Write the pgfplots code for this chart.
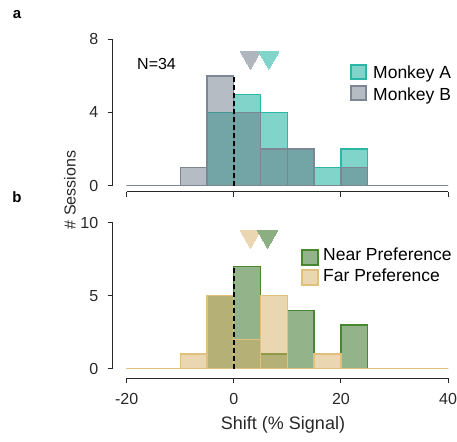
\documentclass[border=0pt]{standalone}
\usepackage{pgfplots}
\pgfplotsset{compat=1.18}
\usepackage{fontspec}
\setmainfont{Liberation Sans}
\definecolor{tealF}{RGB}{128,212,201}
\definecolor{tealD}{RGB}{43,183,165}
\definecolor{grayB}{RGB}{101,115,132}
\definecolor{grayD}{RGB}{125,135,148}
\definecolor{grayL}{RGB}{181,188,196}
\definecolor{grayT}{RGB}{176,182,190}
\definecolor{greenF}{RGB}{147,179,138}
\definecolor{greenD}{RGB}{72,135,48}
\definecolor{greenT}{RGB}{140,175,130}
\definecolor{tanB}{RGB}{214,175,100}
\definecolor{tanD}{RGB}{225,192,125}
\definecolor{tanL}{RGB}{234,214,176}
\definecolor{axc}{RGB}{40,40,40}
\begin{document}
\begin{tikzpicture}[x=1pt,y=1pt]
\path[use as bounding box] (0,0) rectangle (457,-441);
\pgfplotsset{myax/.style={scale only axis, xmin=-22.62, xmax=40, width=335.3pt,
  anchor=south west, axis line style={draw=none}, tick align=outside,
  xtick pos=left, ytick pos=left, xtick={-20,0,20,40}, major tick length=5pt,
  tick style={line width=0.9pt, color=axc}, clip=false,
  /pgf/number format/assume math mode=true,
  ticklabel style={font=\fontsize{16}{19}\selectfont, text=axc},
  xticklabel style={yshift=-6pt},
  yticklabel style={xshift=-6pt}}}

% ---- panel a ----
\begin{axis}[myax, at={(112.7pt,-191.7pt)}, height=152.4pt, ymin=-0.33, ymax=8,
  ytick={0,4,8}, xticklabels={}]
\addplot[ybar interval, fill=tealF, draw=tealD, line width=1.3pt] coordinates {
(-20,0) (-15,0) (-10,0) (-5,4) (0,5) (5,4) (10,2) (15,1) (20,2) (25,0) (30,0) (35,0) (40,0)};
\addplot[ybar interval, fill=grayB, fill opacity=0.48, draw=grayD, line width=1.3pt] coordinates {
(-20,0) (-15,0) (-10,1) (-5,6) (0,4) (5,2) (10,2) (15,0) (20,1) (25,0) (30,0) (35,0) (40,0)};
\addplot[black, line width=1.6pt, dash pattern=on 5pt off 3pt] coordinates {(0,0) (0,6)};
\addplot[only marks, color=grayT, mark=triangle*, mark size=11.5pt, mark options={rotate=180, fill=grayT, draw=grayT, line width=0pt}] coordinates {(3.1,7)};
\addplot[only marks, color=tealF, mark=triangle*, mark size=11.5pt, mark options={rotate=180, fill=tealF, draw=tealF, line width=0pt}] coordinates {(6.55,7)};
\draw[axc, line width=1.2pt] (axis cs:-22.62,0) -- (axis cs:-22.62,8);
\draw[axc, line width=1.2pt] (axis cs:-20,-0.33) -- (axis cs:40,-0.33);
\end{axis}

% ---- panel b ----
\begin{axis}[myax, at={(112.7pt,-378.3pt)}, height=155.6pt, ymin=-0.66, ymax=10,
  ytick={0,5,10}]
\addplot[ybar interval, fill=greenF, draw=greenD, line width=1.3pt] coordinates {
(-20,0) (-15,0) (-10,0) (-5,5) (0,7) (5,1) (10,4) (15,0) (20,3) (25,0) (30,0) (35,0) (40,0)};
\addplot[ybar interval, fill=tanB, fill opacity=0.51, draw=tanD, line width=1.3pt] coordinates {
(-20,0) (-15,0) (-10,1) (-5,5) (0,2) (5,5) (10,0) (15,1) (20,0) (25,0) (30,0) (35,0) (40,0)};
\addplot[black, line width=1.6pt, dash pattern=on 5pt off 3pt] coordinates {(0,0) (0,7)};
\addplot[only marks, color=tanL, mark=triangle*, mark size=11.5pt, mark options={rotate=180, fill=tanL, draw=tanL, line width=0pt}] coordinates {(3.1,9.05)};
\addplot[only marks, color=greenT, mark=triangle*, mark size=11.5pt, mark options={rotate=180, fill=greenT, draw=greenT, line width=0pt}] coordinates {(6.3,9.05)};
\draw[axc, line width=1.2pt] (axis cs:-22.62,0) -- (axis cs:-22.62,10);
\draw[axc, line width=1.2pt] (axis cs:-20,-0.66) -- (axis cs:40,-0.66);
\end{axis}

% ---- labels ----
\node[font=\bfseries\fontsize{15}{18}\selectfont] at (17,-15) {a};
\node[font=\bfseries\fontsize{15}{18}\selectfont] at (17,-197) {b};
\node[rotate=90, font=\fontsize{16}{19}\selectfont, text=axc] at (70,-190) {\# Sessions};
\node[font=\fontsize{18}{21}\selectfont, text=axc] at (283,-425) {Shift (\% Signal)};
\node[anchor=base west, inner sep=0, font=\fontsize{16}{19}\selectfont] at (137,-70) {N=34};

% ---- legends ----
\draw[draw=tealD, fill=tealF, line width=1.2pt] (351,-65) rectangle (366,-79);
\draw[draw=grayD, fill=grayL, line width=1.2pt] (351,-86) rectangle (366,-100);
\node[anchor=base west, inner sep=0, font=\fontsize{17.5}{20}\selectfont] at (373,-79) {Monkey A};
\node[anchor=base west, inner sep=0, font=\fontsize{17.5}{20}\selectfont] at (373,-100) {Monkey B};
\draw[draw=greenD, fill=greenF, line width=1.2pt] (302,-250) rectangle (318,-265);
\draw[draw=tanD, fill=tanL, line width=1.2pt] (302,-270) rectangle (318,-285);
\node[anchor=base west, inner sep=0, font=\fontsize{17.5}{20}\selectfont] at (323,-260) {Near Preference};
\node[anchor=base west, inner sep=0, font=\fontsize{17.5}{20}\selectfont] at (323,-281) {Far Preference};
\end{tikzpicture}
\end{document}
